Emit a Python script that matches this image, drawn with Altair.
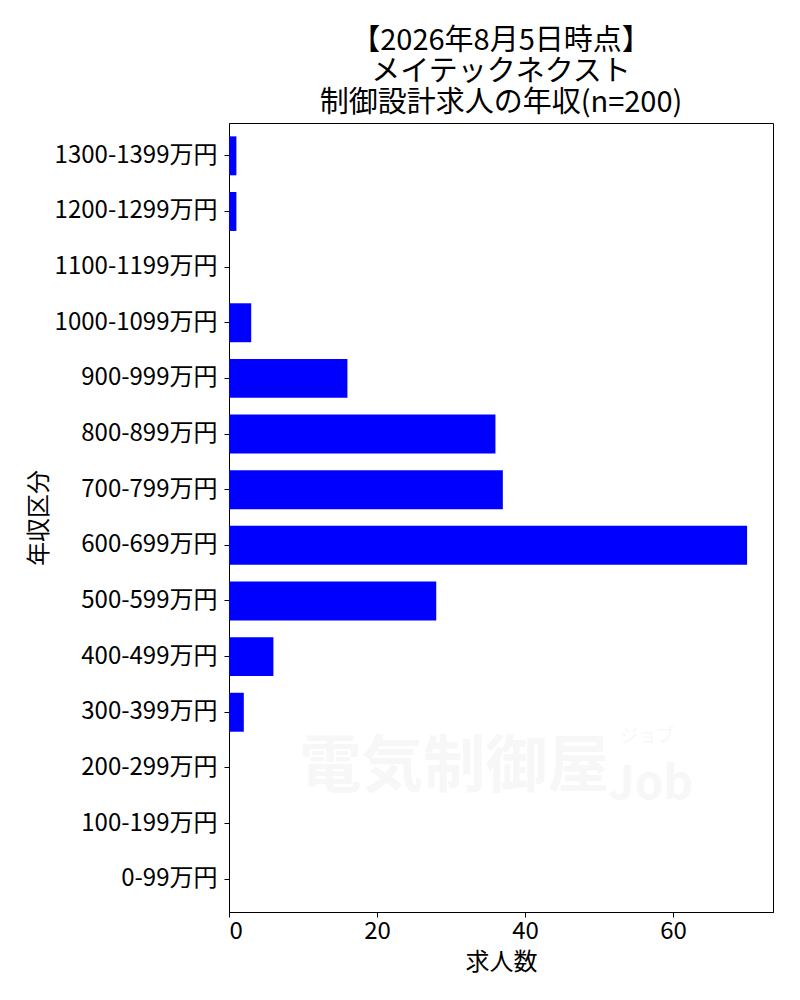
import altair as alt
import pandas as pd

categories = ["1300-1399万円", "1200-1299万円", "1100-1199万円", "1000-1099万円",
              "900-999万円", "800-899万円", "700-799万円", "600-699万円",
              "500-599万円", "400-499万円", "300-399万円", "200-299万円",
              "100-199万円", "0-99万円"]
counts = [1, 1, 0, 3, 16, 36, 37, 70, 28, 6, 2, 0, 0, 0]
x_ticks = [0, 20, 40, 60]
title_lines = ["【2026年8月5日時点】", "メイテックネクスト", "制御設計求人の年収(n=200)"]

FONT = "Noto Sans CJK JP"

df = pd.DataFrame({"band": categories, "count": counts})

xscale = alt.Scale(domain=[0, 73.5], nice=False, zero=True)
yscale = alt.Scale(domain=categories, paddingInner=0.3, paddingOuter=0.24)

bars = alt.Chart(df).mark_bar(color="#0000ff").encode(
    x=alt.X("count:Q", scale=xscale, title="求人数",
            axis=alt.Axis(values=x_ticks, grid=False, tickSize=5, labelPadding=2,
                          titleY=50, titleBaseline="middle")),
    y=alt.Y("band:N", scale=yscale, sort=categories, title="年収区分",
            axis=alt.Axis(grid=False, tickSize=5, labelPadding=7,
                          titleAngle=270, titleX=-190, titleY=394.5,
                          titleAlign="center", titleBaseline="middle")),
)

wm1 = alt.Chart(pd.DataFrame({"x": [9.5], "band": ["200-299万円"], "t": ["電気制御屋"]})).mark_text(
    font=FONT, fontSize=62, fontWeight="bold", color="#f7f7f7", align="left", baseline="middle"
).encode(x=alt.X("x:Q", scale=xscale), y=alt.Y("band:N", scale=yscale, sort=categories), text="t:N")

wm2 = alt.Chart(pd.DataFrame({"x": [57], "band": ["200-299万円"], "t": ["Job"]})).mark_text(
    font=FONT, fontSize=46, fontWeight="bold", color="#f7f7f7", align="center", baseline="middle", dy=17
).encode(x=alt.X("x:Q", scale=xscale), y=alt.Y("band:N", scale=yscale, sort=categories), text="t:N")

wm3 = alt.Chart(pd.DataFrame({"x": [56.5], "band": ["200-299万円"], "t": ["ジョブ"]})).mark_text(
    font=FONT, fontSize=18, color="#f7f7f7", align="center", baseline="middle", dy=-31
).encode(x=alt.X("x:Q", scale=xscale), y=alt.Y("band:N", scale=yscale, sort=categories), text="t:N")

chart = alt.layer(wm1, wm2, wm3, bars).properties(
    width=544, height=789,
    background="white",
    title=alt.TitleParams(text=title_lines, fontSize=29, lineHeight=31, font=FONT,
                          fontWeight="normal", color="black", anchor="middle",
                          baseline="bottom", offset=-24),
    autosize=alt.AutoSizeParams(type="none"),
    padding={"left": 221, "top": 115, "right": 19, "bottom": 70},
).configure_view(stroke="black", strokeWidth=1).configure_axis(
    labelFont=FONT, titleFont=FONT, labelFontSize=24, titleFontSize=24,
    labelColor="black", titleColor="black", tickColor="black", domainColor="black",
    titleFontWeight="normal", domainWidth=1, tickWidth=1,
)

chart.save("out.html", embed_options={"renderer": "svg", "actions": False})
